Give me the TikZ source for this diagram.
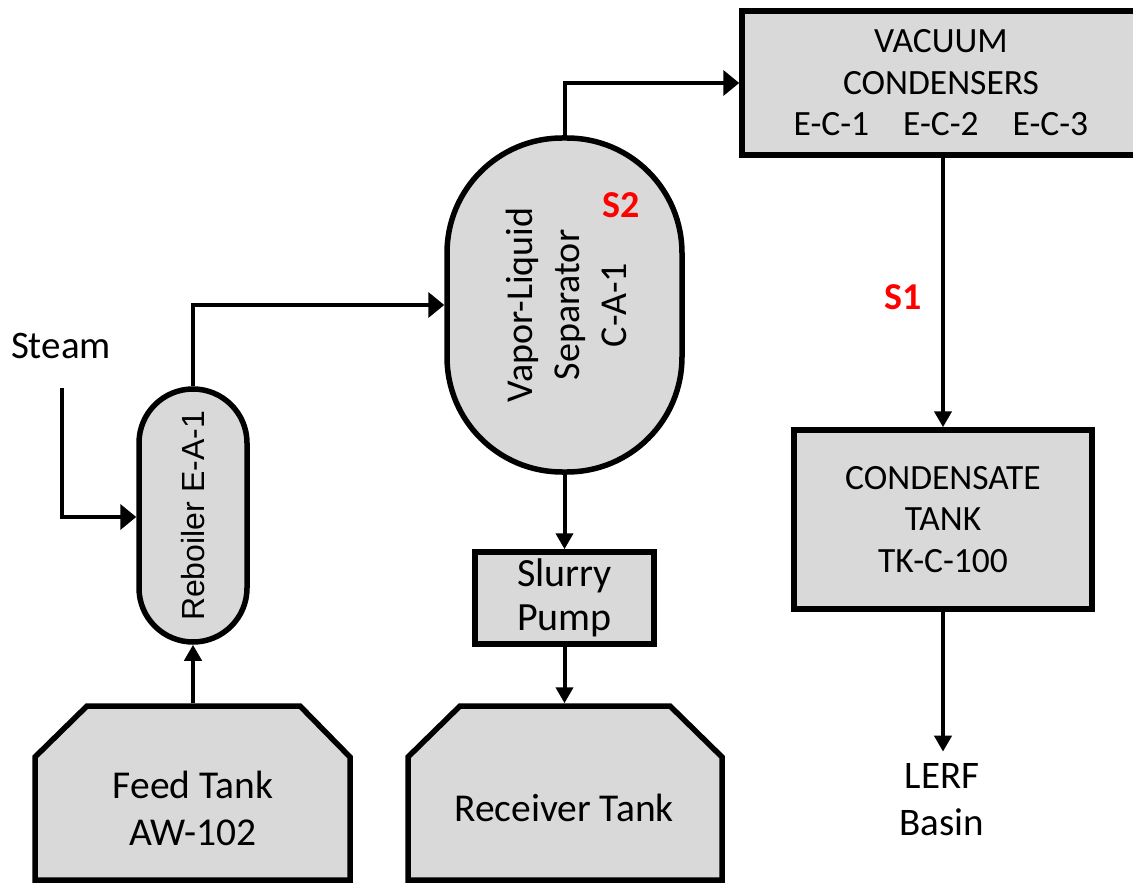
\documentclass[tikz,border=0pt]{standalone}
\usepackage{fontspec}
\setmainfont{Carlito}
\newfontfamily\arialf{Liberation Sans}
\usetikzlibrary{arrows.meta}
\definecolor{boxgray}{HTML}{D9D9D9}
\definecolor{tagred}{HTML}{FF0000}
\begin{document}
\begin{tikzpicture}[x=1pt,y=-1pt,
  box/.style={draw=black, line width=5.5pt, fill=boxgray, inner sep=0pt, align=center},
  tankline/.style={draw=black, line width=5.5pt, fill=boxgray, line join=miter},
  ghost/.style={draw=none, fill=none, inner sep=0pt, outer sep=2.75pt},
  flowv/.style={line width=4pt, -{Triangle[length=16pt,width=17pt]}},
  flowh/.style={line width=4pt, -{Triangle[length=16pt,width=25pt]}},
  txt/.style={inner sep=0pt, align=center},
  fsmall/.style={font=\fontsize{35.5}{41.5}\selectfont},
  fmid/.style={font=\fontsize{39}{47}\selectfont},
  fbig/.style={font=\fontsize{39.5}{47}\selectfont},
  fpump/.style={font=\fontsize{40}{45}\selectfont},
  tag/.style={inner sep=0pt, text=tagred, font=\fontsize{38}{40}\selectfont\bfseries},
]
\useasboundingbox (0,0) rectangle (1133,885);
\clip (0,0) rectangle (1133,885);

% tanks
\path[tankline] (35,880) -- (35,757) -- (87,706) -- (300,706) -- (350,757) -- (350,880) -- cycle;
\node[ghost, minimum width=315, minimum height=174] (feed) at (192.5,793) {};
\node[txt, fbig] (feedtxt) at (193,808) {Feed Tank\\AW-102};

\path[tankline] (408,880) -- (408,757) -- (460,706) -- (670,706) -- (722,757) -- (722,880) -- cycle;
\node[ghost, minimum width=314, minimum height=174] (recv) at (565,793) {};
\node[txt, fbig] (recvtxt) at (564,808) {Receiver Tank};

% reboiler
\node[box, rounded corners=54pt, minimum width=108, minimum height=253] (reb) at (193,515.5) {};
\node[txt, rotate=90, font=\arialf\fontsize{32}{36}\selectfont] (rebtxt) at (193,516) {Reboiler E-A-1};

% separator
\node[box, rounded corners=115pt, minimum width=235, minimum height=334] (sep) at (564.5,305) {};
\node[txt, rotate=90, font=\fontsize{38}{47}\selectfont] (septxt) at (566,305) {Vapor-Liquid\\Separator\\C-A-1};
\node[tag] (s2) at (621,205) {S2};

% pump
\node[box, fpump, minimum width=179, minimum height=92] (pump) at (564.5,598) {Slurry\\[-1pt]Pump};

% condensers
\node[box, fsmall, minimum width=398, minimum height=144] (cond) at (941,83)
  {VACUUM\\CONDENSERS\\E-C-1\hspace{34pt}E-C-2\hspace{34pt}E-C-3};
\node[tag] (s1) at (903,297) {S1};

% condensate tank
\node[box, fsmall, minimum width=298, minimum height=179] (ct) at (943,519.5) {CONDENSATE\\TANK\\TK-C-100};

% texts
\node[txt, fmid] (steam) at (61,346) {Steam};
\coordinate (steamstart) at (62,388);
\node[fmid, inner xsep=0pt, inner ysep=12pt, align=center] (lerf) at (942,800) {LERF\\Basin};

% connectors
\draw[flowv] (feed.north -| reb.south) -- (reb.south);
\draw[flowh] (steamstart) |- (reb.west |- 0,517);
\draw[flowh] (reb.north) |- (sep.west);
\draw[flowh] (sep.north) |- (cond.west);
\draw[flowv] (sep.south) -- (pump.north);
\draw[flowv] (pump.south) -- (recv.north -| pump.south);
\draw[flowv] (ct.north |- cond.south) -- (ct.north);
\draw[flowv] (ct.south) -- (lerf.north -| ct.south);
\end{tikzpicture}
\end{document}
